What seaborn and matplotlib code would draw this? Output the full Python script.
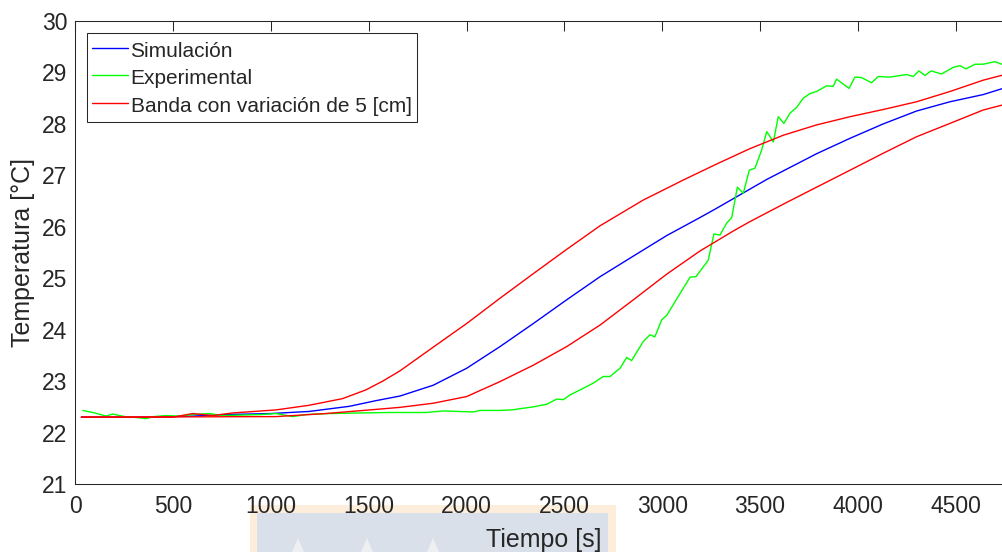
import matplotlib
matplotlib.use("Agg")
import matplotlib.pyplot as plt
import seaborn as sns
import pandas as pd
from matplotlib.patches import Rectangle, Polygon

# ---------------- data ----------------
sim_t = [30, 400, 600, 770, 1000, 1194, 1400, 1536, 1659, 1829, 2000, 2170, 2341,
         2511, 2682, 2852, 3023, 3193, 3278, 3534, 3789, 3960, 4130, 4300, 4471,
         4641, 4742]
sim_T = [22.30, 22.30, 22.32, 22.35, 22.37, 22.41, 22.51, 22.62, 22.71, 22.92, 23.25,
         23.67, 24.12, 24.58, 25.03, 25.43, 25.83, 26.18, 26.36, 26.92, 27.42, 27.72,
         28.00, 28.25, 28.43, 28.57, 28.69]

exp_t = [37, 100, 156, 190, 250, 300, 360, 400, 460, 530, 600, 684, 750, 850, 950,
         1025, 1110, 1180, 1300, 1450, 1600, 1792, 1881, 2034, 2068, 2170, 2230, 2341,
         2409, 2460, 2494, 2528, 2647, 2698, 2733, 2784, 2818, 2843, 2903, 2937, 2962,
         2997, 3023, 3142, 3172, 3235, 3264, 3295, 3329, 3355, 3384, 3414, 3445, 3474,
         3508, 3534, 3568, 3593, 3622, 3653, 3687, 3721, 3755, 3789, 3840, 3874, 3891,
         3955, 3985, 4019, 4070, 4104, 4164, 4249, 4283, 4312, 4343, 4374, 4428, 4488,
         4522, 4553, 4599, 4641, 4701, 4735]
exp_T = [22.43, 22.38, 22.32, 22.36, 22.31, 22.30, 22.27, 22.31, 22.33, 22.32, 22.35,
         22.37, 22.33, 22.34, 22.35, 22.37, 22.31, 22.35, 22.37, 22.38, 22.39, 22.39,
         22.42, 22.40, 22.43, 22.43, 22.44, 22.50, 22.55, 22.65, 22.64, 22.73, 22.96,
         23.09, 23.09, 23.25, 23.46, 23.40, 23.77, 23.90, 23.86, 24.19, 24.28, 25.02,
         25.03, 25.35, 25.86, 25.84, 26.07, 26.18, 26.77, 26.65, 27.10, 27.14, 27.49,
         27.85, 27.65, 28.14, 28.01, 28.21, 28.32, 28.50, 28.59, 28.63, 28.74, 28.73,
         28.87, 28.69, 28.91, 28.90, 28.80, 28.92, 28.91, 28.96, 28.92, 29.03, 28.94,
         29.03, 28.97, 29.10, 29.13, 29.07, 29.16, 29.16, 29.21, 29.16]

hi_t = [30, 500, 600, 700, 800, 1025, 1194, 1366, 1485, 1571, 1659, 1829, 2000, 2170,
        2341, 2511, 2682, 2903, 3108, 3278, 3449, 3619, 3789, 3960, 4130, 4300, 4471,
        4641, 4742]
hi_T = [22.30, 22.30, 22.37, 22.33, 22.38, 22.44, 22.53, 22.66, 22.83, 23.00, 23.20,
        23.66, 24.12, 24.61, 25.09, 25.56, 26.02, 26.52, 26.91, 27.22, 27.52, 27.78,
        27.98, 28.14, 28.28, 28.43, 28.63, 28.85, 28.95]

lo_t = [30, 1025, 1281, 1536, 1659, 1829, 2000, 2170, 2341, 2511, 2682, 2852, 3023,
        3193, 3364, 3448, 3619, 3789, 3960, 4130, 4300, 4471, 4641, 4742]
lo_T = [22.30, 22.31, 22.37, 22.45, 22.49, 22.57, 22.70, 22.99, 23.31, 23.67, 24.09,
        24.58, 25.08, 25.53, 25.92, 26.10, 26.44, 26.77, 27.10, 27.43, 27.75, 28.01,
        28.27, 28.37]

labels = ["Simulación", "Experimental", "Banda con variación de 5 [cm]"]
x_ticks = [0, 500, 1000, 1500, 2000, 2500, 3000, 3500, 4000, 4500]
y_ticks = [21, 22, 23, 24, 25, 26, 27, 28, 29, 30]

# ---------------- style ----------------
sns.set_style("white")
plt.rcParams['font.family'] = ['Liberation Sans', 'DejaVu Sans']

W, H = 1003, 552
fig = plt.figure(figsize=(W / 100, H / 100), dpi=100)
ax = fig.add_axes([75.5 / W, 68 / H, (W - 75.5) / W, 463 / H])

df_sim = pd.DataFrame({"t": sim_t, "T": sim_T})
df_exp = pd.DataFrame({"t": exp_t, "T": exp_T})
df_hi = pd.DataFrame({"t": hi_t, "T": hi_T})
df_lo = pd.DataFrame({"t": lo_t, "T": lo_T})

lw = 1.0
sns.lineplot(data=df_sim, x="t", y="T", ax=ax, color=(0, 0, 1), lw=lw,
             estimator=None, sort=False, label=labels[0], legend=False)
sns.lineplot(data=df_exp, x="t", y="T", ax=ax, color=(0, 1, 0), lw=lw,
             estimator=None, sort=False, label=labels[1], legend=False)
sns.lineplot(data=df_hi, x="t", y="T", ax=ax, color=(1, 0, 0), lw=lw,
             estimator=None, sort=False, label=labels[2], legend=False)
sns.lineplot(data=df_lo, x="t", y="T", ax=ax, color=(1, 0, 0), lw=lw,
             estimator=None, sort=False, label="_nolegend_", legend=False)

ax.set_xlim(0, 4742)
ax.set_ylim(21, 30)
ax.set_xticks(x_ticks)
ax.set_yticks(y_ticks)
ax.grid(False)

axcol = '#262626'
for s in ['left', 'bottom', 'top']:
    ax.spines[s].set_color(axcol)
    ax.spines[s].set_linewidth(0.75)
ax.spines['right'].set_visible(False)

ax.tick_params(axis='both', direction='in', length=7.2, width=0.75, colors=axcol,
               labelsize=16.5, top=True, right=False)
ax.tick_params(axis='x', pad=8)
ax.tick_params(axis='y', pad=6)

ax.set_xlabel("Tiempo [s]", fontsize=18, color=axcol, va='top')
ax.set_ylabel("Temperatura [°C]", fontsize=18, color=axcol, va='center')
ax.xaxis.set_label_coords((544 - 75.5) / (W - 75.5), (484 - 528) / 463)
ax.yaxis.set_label_coords((23.5 - 75.5) / (W - 75.5), 0.5)

handles, labs = ax.get_legend_handles_labels()
leg = ax.legend(handles, labs, loc='upper left', bbox_to_anchor=(0.0124, 0.974),
                borderaxespad=0, fontsize=15, frameon=True, fancybox=False,
                edgecolor=axcol, framealpha=1, handlelength=1.74, handleheight=1.35,
                handletextpad=0.1, borderpad=0.25, labelspacing=0.2)
leg.get_frame().set_linewidth(0.75)

# faint watermark below the axis
fig.add_artist(Rectangle((250 / W, 0), 366 / W, 47 / H, transform=fig.transFigure,
                         facecolor='#FCEEDA', edgecolor='none', zorder=-2))
fig.add_artist(Rectangle((257 / W, 0), 351 / W, 39 / H, transform=fig.transFigure,
                         facecolor='#D9E0E9', edgecolor='none', zorder=-2))
for c in (298, 367, 433):
    fig.add_artist(Polygon([((c - 6) / W, 0), (c / W, 14 / H), ((c + 6) / W, 0)],
                           closed=True, transform=fig.transFigure,
                           facecolor='#EDEFF2', edgecolor='none', zorder=-1.5))

fig.savefig("out.png", dpi=100)
